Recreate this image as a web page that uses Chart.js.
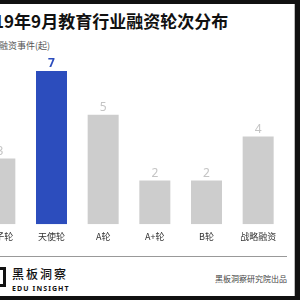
<!DOCTYPE html>
<html>
<head>
<meta charset="utf-8">
<script src="https://cdn.jsdelivr.net/npm/chart.js@4/dist/chart.umd.min.js"></script>
<style>
  html, body { margin:0; padding:0; width:300px; height:300px; overflow:hidden; background:#111; }
  body { position:relative; font-family:"Noto Sans CJK SC","Noto Sans",sans-serif; }
  .card { position:absolute; left:-40px; top:4px; width:334px; height:292px; background:#fff; border-right:1px solid #bbb; }
  .title { position:absolute; left:-26px; top:9px; font-size:17px; font-weight:700; color:#111; white-space:nowrap; line-height:24px; }
  .sub { position:absolute; left:-28px; top:39px; font-size:9px; color:#555; white-space:nowrap; }
  .chart { position:absolute; left:-26px; top:49px; width:310px; height:200px; }
  .rule { position:absolute; left:0; top:256px; width:287px; height:1px; background:#999; }
  .logo-box { position:absolute; left:-14px; top:267px; width:14px; height:14px; border:3px solid #111; }
  .logo-cn { position:absolute; left:12px; top:266px; font-size:12px; font-weight:500; color:#111; letter-spacing:2px; white-space:nowrap; line-height:16px; }
  .logo-en { position:absolute; left:12px; top:284px; font-size:7px; font-weight:700; color:#111; letter-spacing:1.1px; white-space:nowrap; line-height:9px; font-family:"Noto Sans",sans-serif; }
  .credit { position:absolute; right:13px; top:273px; font-size:8px; color:#444; white-space:nowrap; }
</style>
</head>
<body>
<div class="card"></div>
<div class="title">2019年9月教育行业融资轮次分布</div>
<div class="sub">单位：融资事件(起)</div>
<div class="chart"><canvas id="rounds"></canvas></div>
<div class="rule"></div>
<div class="logo-box"></div>
<div class="logo-cn">黑板洞察</div>
<div class="logo-en">EDU INSIGHT</div>
<div class="credit">黑板洞察研究院出品</div>
<script>
const categories = ['种子轮', '天使轮', 'A轮', 'A+轮', 'B轮', '战略融资'];
const counts = [3, 7, 5, 2, 2, 4];
const highlight = '天使轮';

(function(){
  const cBlue = '#2c4dbd';
  const cGray = '#cdcdcd';
  const barColors = categories.map(c => c === highlight ? cBlue : cGray);

  // value labels above bars
  const valueLabels = {
    id: 'valueLabels',
    afterDatasetsDraw(chart) {
      const ctx = chart.ctx;
      const meta = chart.getDatasetMeta(0);
      ctx.save();
      ctx.textAlign = 'center';
      ctx.textBaseline = 'bottom';
      meta.data.forEach((bar, i) => {
        const hi = categories[i] === highlight;
        ctx.font = (hi ? '700 12px ' : '400 12px ') + '"Noto Sans","Noto Sans CJK SC",sans-serif';
        ctx.fillStyle = hi ? cBlue : '#c4c4c4';
        ctx.fillText(String(counts[i]), bar.x, bar.y - 1);
      });
      ctx.restore();
    }
  };

  new Chart(document.getElementById('rounds'), {
    type: 'bar',
    data: {
      labels: categories,
      datasets: [{
        data: counts,
        backgroundColor: barColors,
        borderWidth: 0,
        barPercentage: 0.6,
        categoryPercentage: 1
      }]
    },
    options: {
      responsive: true,
      maintainAspectRatio: false,
      animation: false,
      layout: { padding: 0 },
      scales: {
        x: {
          grid: { display: false, drawTicks: false },
          border: { display: false },
          ticks: { color: '#333', padding: 7, font: { size: 9, family: '"Noto Sans CJK SC",sans-serif' }, maxRotation: 0, autoSkip: false }
        },
        y: { display: false, min: 0, max: 8 }
      },
      plugins: {
        legend: { display: false },
        tooltip: { enabled: false }
      }
    },
    plugins: [valueLabels]
  });
})();
</script>
</body>
</html>
